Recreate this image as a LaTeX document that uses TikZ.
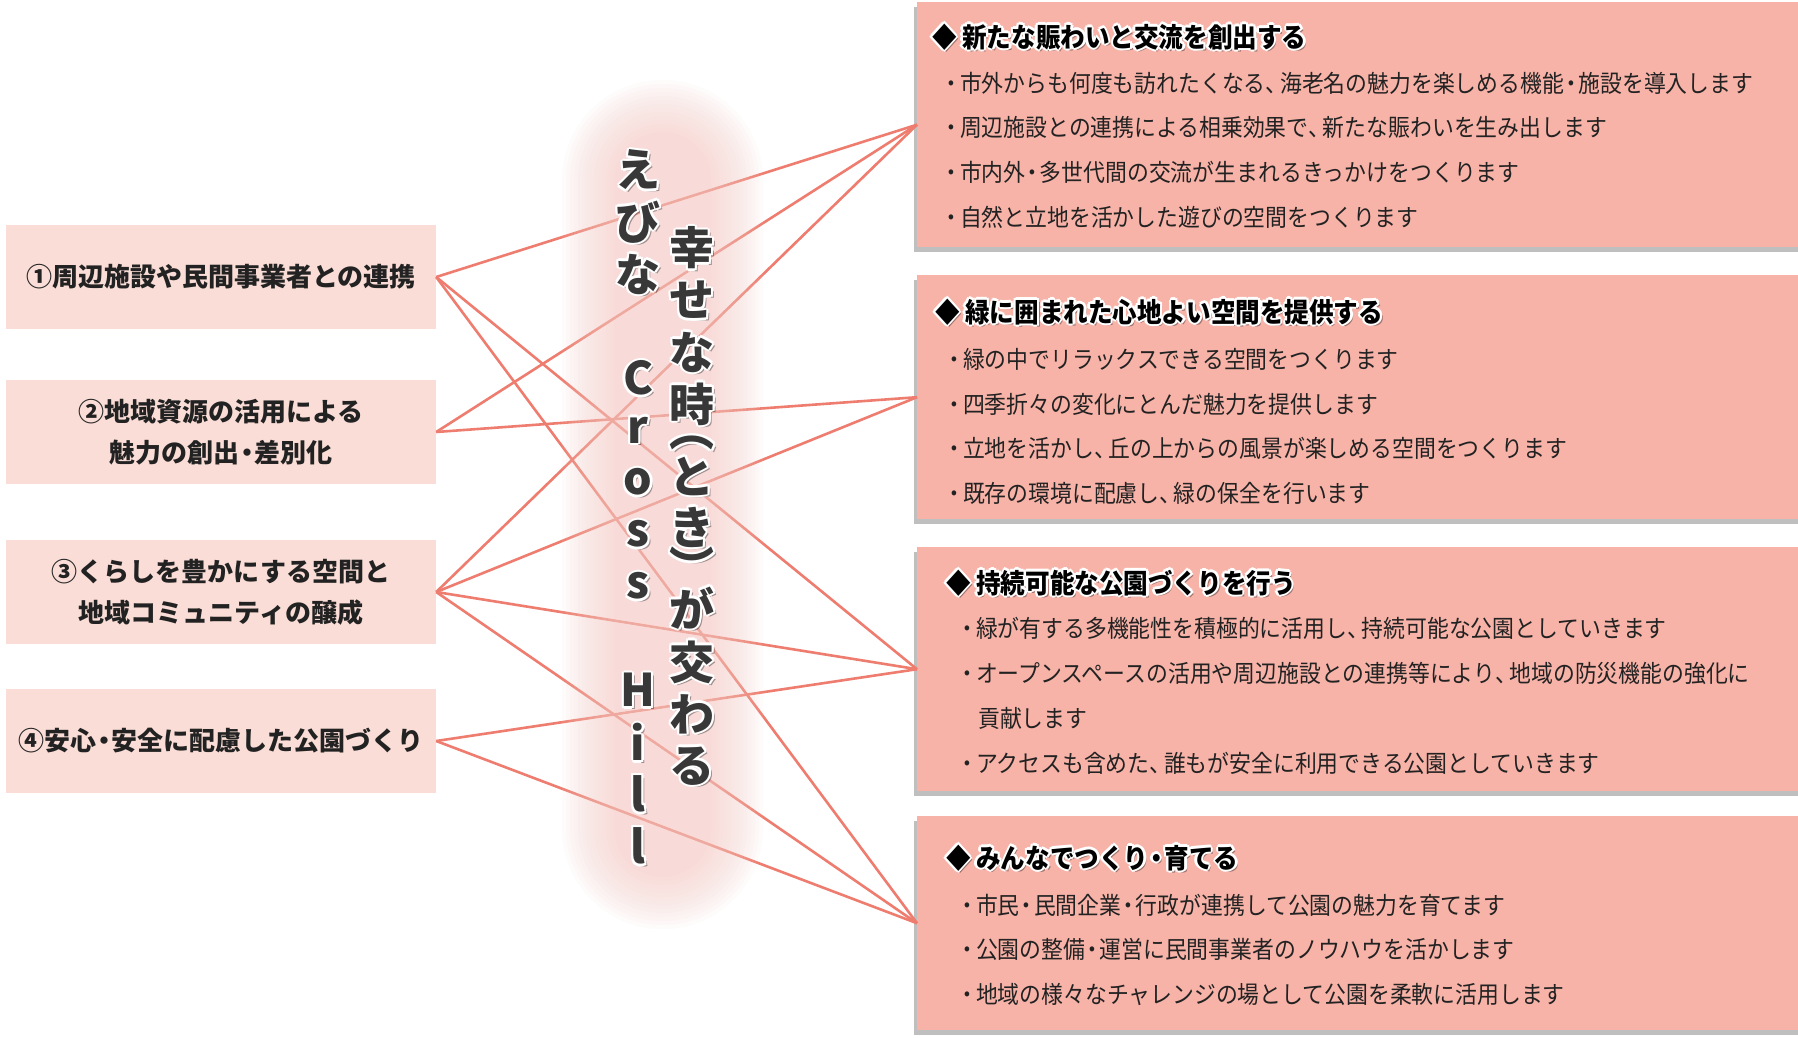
\documentclass[tikz,border=0pt]{standalone}
\usepackage{fontspec}
\usetikzlibrary{shadows}
\newfontfamily\jp{Noto Sans CJK JP}
\newfontfamily\jpc[FakeStretch=0.91]{Noto Sans CJK JP}
\definecolor{lboxc}{HTML}{F9DDD6}
\definecolor{rboxc}{HTML}{F7B3A8}
\definecolor{linec}{HTML}{EE7D70}
\definecolor{pillc}{HTML}{F8CDC6}
\definecolor{txt}{HTML}{222222}
\definecolor{vtxt}{HTML}{383838}
\newcommand\nd[1][0.6em]{\makebox[#1]{・}}
\newcommand\bul{\makebox[0.7em]{・}}
\newcommand\tn{\makebox[0.6em][l]{、}}
\tikzset{
  lbox/.style={fill=lboxc, minimum width=430pt, minimum height=104pt, inner sep=0pt, align=center, text=txt, font=\jp\bfseries\fontsize{26}{41}\selectfont},
  rbox/.style={fill=rboxc, inner sep=0pt, anchor=north west, minimum width=900pt, drop shadow={shadow xshift=-3pt,shadow yshift=-5pt,opacity=.45,fill=black!55}},
  conn/.style={draw=linec, line width=2.6pt},
  head/.style={anchor=west, inner sep=0pt, text=black, font=\jpc\bfseries\fontsize{27}{32}\selectfont},
  item/.style={anchor=west, inner sep=0pt, text=txt, font=\jpc\fontsize{24}{30}\selectfont},
  vch/.style={inner sep=0pt, text=vtxt, font=\jp\bfseries\fontsize{45}{50}\selectfont},
}
\newcommand\glow[4]{%
  \node[#3,text=black,opacity=.35,xshift=2.5pt,yshift=-2.5pt] at #2 {#4};
  \foreach \ang in {0,45,...,315}{%
    \node[#3,text=white,xshift={2.4*cos(\ang)},yshift={2.4*sin(\ang)}] at #2 {#4};}
  \node[#3] (#1) at #2 {#4};
}
\begin{document}
\begin{tikzpicture}[x=1pt,y=-1pt]
\useasboundingbox (0,0) rectangle (1798,1038);
\fill[white] (0,0) rectangle (1798,1038);

% left boxes
\node[lbox] (L1) at (221,277) {①周辺施設や民間事業者との連携};
\node[lbox] (L2) at (221,432) {②地域資源の活用による\\魅力の創出\nd 差別化};
\node[lbox] (L3) at (221,592) {③くらしを豊かにする空間と\\地域コミュニティの醸成};
\node[lbox] (L4) at (221,741) {④安心\nd 安全に配慮した公園づくり};

% right boxes
\node[rbox,minimum height=245pt] (R1) at (917,2) {};
\node[rbox,minimum height=244pt] (R2) at (917,275) {};
\node[rbox,minimum height=244pt] (R3) at (917,547) {};
\node[rbox,minimum height=214pt] (R4) at (917,816) {};

% connectors
\draw[conn] (L1.east) -- (R1.west);
\draw[conn] (L1.east) -- (R3.west);
\draw[conn] (L1.east) -- (R4.west);
\draw[conn] (L2.east) -- (R1.west);
\draw[conn] (L2.east) -- (R2.west);
\draw[conn] (L3.east) -- (R1.west);
\draw[conn] (L3.east) -- (R2.west);
\draw[conn] (L3.east) -- (R3.west);
\draw[conn] (L3.east) -- (R4.west);
\draw[conn] (L4.east) -- (R3.west);
\draw[conn] (L4.east) -- (R4.west);

% central glow pill
\foreach \i in {0,...,13}{
  \pgfmathsetmacro\rr{100-4*\i}
  \fill[pillc,opacity=.065,rounded corners=\rr pt] (562+4*\i,80+4*\i) rectangle (763-4*\i,929-4*\i);
}

% vertical titles
\foreach \gl/\yy [count=\k] in {え/170,び/222,な/274,C/378,r/430,o/482,s/534,s/586,H/690,i/742,l/794,l/846}{
  \glow{va\k}{(638,\yy)}{vch}{\gl}
}
\foreach \gl/\yy [count=\k] in {幸/248,せ/300,な/352,時/404,︵/443,と/476,き/527,︶/566,が/608,交/662,わ/714,る/766}{
  \glow{vb\k}{(692,\yy)}{vch}{\gl}
}

% right box texts
\glow{R1h}{(932,37)}{head}{◆ 新たな賑わいと交流を創出する}
\node[item] (R1a) at (943,83) {\bul 市外からも何度も訪れたくなる\tn 海老名の魅力を楽しめる機能\nd 施設を導入します};
\node[item] (R1b) at (943,127) {\bul 周辺施設との連携による相乗効果で\tn 新たな賑わいを生み出します};
\node[item] (R1c) at (943,172) {\bul 市内外\nd 多世代間の交流が生まれるきっかけをつくります};
\node[item] (R1d) at (943,217) {\bul 自然と立地を活かした遊びの空間をつくります};

\glow{R2h}{(935,312)}{head}{◆ 緑に囲まれた心地よい空間を提供する}
\node[item] (R2a) at (946,359) {\bul 緑の中でリラックスできる空間をつくります};
\node[item] (R2b) at (946,404) {\bul 四季折々の変化にとんだ魅力を提供します};
\node[item] (R2c) at (946,448) {\bul 立地を活かし\tn 丘の上からの風景が楽しめる空間をつくります};
\node[item] (R2d) at (946,493) {\bul 既存の環境に配慮し\tn 緑の保全を行います};

\glow{R3h}{(946,583)}{head}{◆ 持続可能な公園づくりを行う}
\node[item] (R3a) at (959,628) {\bul 緑が有する多機能性を積極的に活用し\tn 持続可能な公園としていきます};
\node[item] (R3b) at (959,673) {\bul オープンスペースの活用や周辺施設との連携等により\tn 地域の防災機能の強化に};
\node[item] (R3c) at (978,718) {貢献します};
\node[item] (R3d) at (959,763) {\bul アクセスも含めた\tn 誰もが安全に利用できる公園としていきます};

\glow{R4h}{(946,858)}{head}{◆ みんなでつくり\nd 育てる}
\node[item] (R4a) at (959,905) {\bul 市民\nd 民間企業\nd 行政が連携して公園の魅力を育てます};
\node[item] (R4b) at (959,949) {\bul 公園の整備\nd 運営に民間事業者のノウハウを活かします};
\node[item] (R4c) at (959,994) {\bul 地域の様々なチャレンジの場として公園を柔軟に活用します};
\end{tikzpicture}
\end{document}
